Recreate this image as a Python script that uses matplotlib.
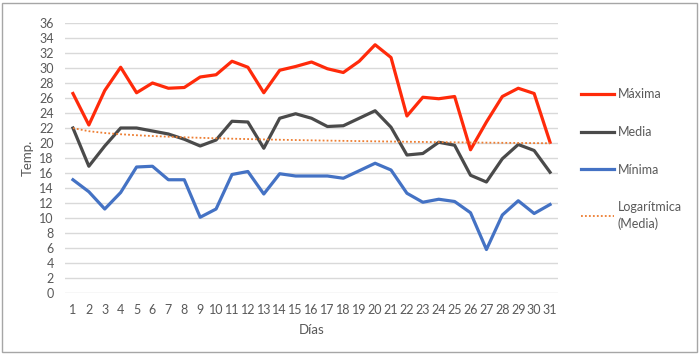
import matplotlib
matplotlib.use("Agg")
import matplotlib.pyplot as plt
from matplotlib.patches import Rectangle
import numpy as np

plt.rcParams['font.family'] = ['Lato', 'DejaVu Sans']

days = list(range(1, 32))
maxima = [26.6, 22.4, 27.0, 30.1, 26.7, 28.0, 27.3, 27.4, 28.8, 29.1, 30.9, 30.1, 26.7, 29.7, 30.2,
          30.8, 29.9, 29.4, 30.9, 33.1, 31.4, 23.6, 26.1, 25.9, 26.2, 19.1, 22.8, 26.2, 27.3, 26.6, 20.1]
media = [22.0, 16.9, 19.6, 22.0, 22.0, 21.6, 21.2, 20.5, 19.6, 20.4, 22.9, 22.8, 19.3, 23.3, 23.9,
         23.3, 22.2, 22.3, 23.3, 24.3, 22.1, 18.4, 18.6, 20.1, 19.7, 15.7, 14.8, 17.9, 19.8, 19.0, 16.1]
minima = [15.1, 13.5, 11.2, 13.4, 16.8, 16.9, 15.1, 15.1, 10.1, 11.2, 15.8, 16.2, 13.2, 15.9, 15.6,
          15.6, 15.6, 15.3, 16.3, 17.3, 16.4, 13.3, 12.1, 12.5, 12.2, 10.7, 5.8, 10.4, 12.3, 10.6, 11.8]
y_ticks = list(range(0, 37, 2))

text_col = '#595959'
fig = plt.figure(figsize=(6.99, 3.54), dpi=100)
ax = fig.add_axes([65/699, (354-293)/354, (558-65)/699, 270/354])

x = np.array(days, dtype=float)
ax.plot(x, maxima, color='#FF2A0A', lw=2.3, label='Máxima', solid_joinstyle='round')
ax.plot(x, media, color='#4A4A4A', lw=2.3, label='Media', solid_joinstyle='round')
ax.plot(x, minima, color='#4472C4', lw=2.3, label='Mínima', solid_joinstyle='round')

# logarithmic trendline of Media
b, a = np.polyfit(np.log(x), np.array(media), 1)
ax.plot(x, a + b*np.log(x), color='#ED7D31', lw=1.3, ls=(0, (1, 1.2)), label='Logarítmica\n(Media)')

ax.set_xlim(0.5, 31.5)
ax.set_ylim(0, 36)
ax.set_yticks(y_ticks)
ax.set_xticks(days)
ax.set_xticklabels([str(d) for d in days])
ax.grid(axis='y', color='#D9D9D9', lw=1)
ax.set_axisbelow(True)
for s in ax.spines.values():
    s.set_visible(False)
ax.tick_params(length=0, colors=text_col, labelsize=9)
ax.tick_params(axis='x', pad=8)
ax.tick_params(axis='y', pad=8)
ax.set_xlabel('Días', color=text_col, fontsize=9.5, labelpad=6)
ax.set_ylabel('Temp.', color=text_col, fontsize=9.5, labelpad=4)

leg = fig.legend(loc='upper left', bbox_to_anchor=(570/699, 1 - 77/354), frameon=False,
                 fontsize=9, labelspacing=2.05, handlelength=2.6, handletextpad=0.3,
                 labelcolor=text_col)
for t in leg.get_texts():
    t.set_linespacing(1.45)

fig.add_artist(Rectangle((2/699, 2/354), 695/699, 349/354, transform=fig.transFigure,
                         fill=False, edgecolor='#A6A6A6', lw=1))
fig.savefig('out.png', dpi=100)
